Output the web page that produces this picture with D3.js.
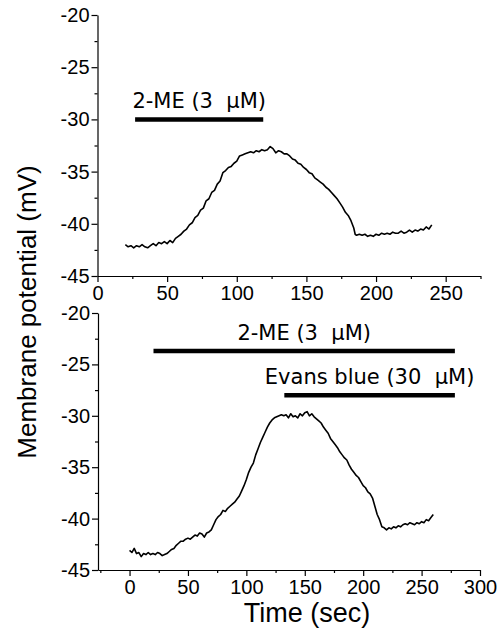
<!DOCTYPE html>
<html lang="en">
<head>
  <meta charset="utf-8">
  <title>Membrane potential</title>
  <script src="https://d3js.org/d3.v7.min.js"></script>
  <style>
    body { margin: 0; background: #fff; }
    text { fill: #000; }
  </style>
</head>
<body>
<script>
// top panel: 2-ME alone, [time (s), potential (mV)]
var traceTop = [
  [20,-42.0],[22,-42.2],[24,-42.1],[26,-42.3],[28,-42.1],[30,-42.2],[32,-42.0],[34,-42.2],
  [36,-42.3],[38,-42.1],[40,-41.9],[42,-42.1],[44,-41.8],[46,-41.9],[48,-41.7],[50,-41.9],
  [52,-41.6],[54,-41.8],[56,-41.4],[58,-41.2],[60,-41.0],[62,-40.7],[64,-40.5],[66,-40.1],
  [68,-39.9],[70,-39.4],[72,-39.2],[74,-38.7],[76,-38.5],[78,-37.8],[80,-37.6],[82,-37.0],
  [84,-36.8],[86,-36.2],[88,-35.9],[90,-35.1],[92,-34.9],[94,-34.6],[96,-34.5],[98,-34.2],
  [100,-34.0],[102,-33.5],[104,-33.4],[106,-33.3],[108,-33.2],[110,-33.1],[112,-33.2],[114,-33.0],
  [116,-33.1],[118,-32.9],[120,-33.0],[122,-32.9],[124,-32.6],[126,-32.8],[128,-33.2],[130,-33.0],
  [132,-33.1],[134,-33.3],[136,-33.3],[138,-33.5],[140,-33.8],[142,-33.9],[144,-34.2],[146,-34.3],
  [148,-34.6],[150,-34.8],[152,-35.1],[154,-35.2],[156,-35.6],[158,-35.8],[160,-36.0],[162,-36.2],
  [164,-36.5],[166,-36.7],[168,-37.0],[170,-37.3],[172,-37.6],[174,-38.0],[176,-38.4],[178,-38.9],
  [180,-39.2],[182,-39.7],[184,-40.4],[185,-41.0],[186,-41.1],[188,-41.0],[190,-41.1],[192,-41.0],
  [194,-41.2],[196,-41.1],[198,-41.2],[200,-41.0],[202,-41.1],[204,-40.9],[206,-41.0],[208,-40.9],
  [210,-41.0],[212,-40.8],[214,-40.9],[216,-40.9],[218,-40.7],[220,-40.9],[222,-40.8],[224,-40.6],
  [226,-40.8],[228,-40.6],[230,-40.7],[232,-40.5],[234,-40.6],[236,-40.3],[238,-40.5],[240,-40.1]
];

// bottom panel: 2-ME then Evans blue
var traceBottom = [
  [0,-43.1],[2,-43.3],[4,-42.9],[6,-43.4],[8,-43.3],[10,-43.7],[12,-43.4],[14,-43.5],
  [16,-43.3],[18,-43.5],[20,-43.4],[22,-43.5],[24,-43.3],[26,-43.4],[28,-43.6],[30,-43.5],
  [32,-43.4],[34,-43.2],[36,-43.0],[38,-42.9],[40,-42.6],[42,-42.4],[44,-42.2],[46,-42.2],
  [48,-42.0],[50,-41.9],[52,-42.0],[54,-41.8],[56,-41.6],[58,-41.7],[60,-41.4],[62,-41.5],
  [64,-41.8],[66,-41.4],[68,-41.3],[70,-41.1],[72,-40.6],[74,-40.1],[76,-39.8],[78,-39.6],
  [80,-39.2],[82,-39.3],[84,-39.0],[86,-38.8],[88,-38.6],[90,-38.4],[92,-38.1],[94,-37.8],
  [96,-37.3],[98,-36.8],[100,-36.2],[102,-35.5],[104,-35.0],[106,-34.6],[108,-33.8],[110,-33.2],
  [112,-32.6],[114,-32.1],[116,-31.6],[118,-31.1],[120,-30.7],[122,-30.4],[124,-30.2],[126,-30.1],
  [128,-30.0],[130,-29.9],[132,-30.0],[134,-29.9],[136,-30.2],[138,-29.8],[140,-30.1],[142,-30.0],
  [144,-30.2],[146,-29.8],[148,-30.0],[150,-29.7],[152,-29.6],[154,-30.0],[156,-29.8],[158,-30.1],
  [160,-30.3],[162,-30.5],[164,-30.7],[166,-31.1],[168,-31.4],[170,-31.7],[172,-32.2],[174,-32.5],
  [176,-32.8],[178,-33.1],[180,-33.5],[182,-33.8],[184,-34.1],[186,-34.3],[188,-34.8],[190,-35.2],
  [192,-35.5],[194,-35.8],[196,-36.0],[198,-36.4],[200,-36.8],[202,-37.0],[204,-37.4],[206,-37.6],
  [208,-38.0],[210,-38.8],[212,-39.6],[214,-40.1],[216,-40.8],[218,-40.9],[220,-41.1],[222,-40.9],
  [224,-41.0],[226,-40.8],[228,-40.9],[230,-40.7],[232,-40.8],[234,-40.6],[236,-40.5],[238,-40.6],
  [240,-40.4],[242,-40.5],[244,-40.6],[246,-40.4],[248,-40.5],[250,-40.3],[252,-40.4],[254,-40.1],
  [256,-40.2],[258,-39.9],[260,-39.6]
];

// drug application bars: start, end, level (mV), label
var barsTop = [
  {start: 27, end: 119, level: -30, label: "2-ME (3  \u03bcM)"}
];
var barsBottom = [
  {start: 20.5, end: 278.5, level: -23.7, label: "2-ME (3  \u03bcM)"},
  {start: 132.5, end: 278.5, level: -28.0, label: "Evans blue (30  \u03bcM)"}
];

var yTicks = [-45, -40, -35, -30, -25, -20];
var xTicksTop = [0, 50, 100, 150, 200, 250];
var xTicksBottom = [0, 50, 100, 150, 200, 250, 300];

var w = 502, h = 631;
var svg = d3.select('body').append('svg')
  .attr('width', w)
  .attr('height', h);

var fmt = function(d) { return String(d); };

function panel(opt) {
  var x = d3.scaleLinear().domain(opt.xDomain).range([opt.left, opt.right]);
  var y = d3.scaleLinear().domain([-45, -20]).range([opt.bottom, opt.top]);
  var g = svg.append('g');

  // minor ticks
  g.append('g')
    .attr('transform', 'translate(0,' + opt.bottom + ')')
    .call(d3.axisBottom(x).tickValues(opt.xMinor).tickSize(3).tickFormat(''))
    .call(function(s) { s.select('.domain').remove(); });
  g.append('g')
    .attr('transform', 'translate(' + opt.left + ',0)')
    .call(d3.axisLeft(y).tickValues(d3.range(-42.5, -20, 5)).tickSize(3).tickFormat(''))
    .call(function(s) { s.select('.domain').remove(); });

  var xa = g.append('g')
    .attr('transform', 'translate(0,' + opt.bottom + ')')
    .call(d3.axisBottom(x).tickValues(opt.xTicks).tickSize(6).tickSizeOuter(0).tickPadding(4).tickFormat(fmt));
  var ya = g.append('g')
    .attr('transform', 'translate(' + opt.left + ',0)')
    .call(d3.axisLeft(y).tickValues(yTicks).tickSize(6).tickSizeOuter(0).tickPadding(2).tickFormat(fmt));
  g.selectAll('.tick text')
    .style('font-family', '"Liberation Sans", Arial, sans-serif')
    .style('font-size', '20px');
  g.selectAll('.domain, .tick line').attr('stroke', '#000').attr('stroke-width', 1.2);

  var line = d3.line()
    .x(function(d) { return x(d[0]); })
    .y(function(d) { return y(d[1]); });
  g.append('path')
    .datum(opt.trace)
    .attr('fill', 'none')
    .attr('stroke', '#000')
    .attr('stroke-width', 1.6)
    .attr('stroke-linejoin', 'round')
    .attr('d', line);

  var b = g.selectAll('.bar').data(opt.bars).enter().append('g');
  b.append('line')
    .attr('x1', function(d) { return x(d.start); })
    .attr('x2', function(d) { return x(d.end); })
    .attr('y1', function(d) { return y(d.level); })
    .attr('y2', function(d) { return y(d.level); })
    .attr('stroke', '#000')
    .attr('stroke-width', 4.5);
  b.append('text')
    .attr('x', function(d) { return x((d.start + d.end) / 2); })
    .attr('y', function(d) { return y(d.level) - 11; })
    .attr('text-anchor', 'middle')
    .style('white-space', 'pre')
    .style('font-family', '"DejaVu Sans", Verdana, sans-serif')
    .style('font-size', '21px')
    .text(function(d) { return d.label; });
}

panel({
  trace: traceTop, bars: barsTop,
  xDomain: [0, 275], left: 97.5, right: 480.5, top: 15, bottom: 276,
  xTicks: xTicksTop, xMinor: [25, 75, 125, 175, 225, 275]
});
panel({
  trace: traceBottom, bars: barsBottom,
  xDomain: [-27, 300], left: 98, right: 480, top: 313, bottom: 570,
  xTicks: xTicksBottom, xMinor: [-25, 25, 75, 125, 175, 225, 275]
});

svg.append('text')
  .attr('transform', 'translate(36,312) rotate(-90)')
  .attr('text-anchor', 'middle')
  .style('font-family', '"Liberation Sans", Arial, sans-serif')
  .style('font-size', '26px')
  .text('Membrane potential (mV)');

svg.append('text')
  .attr('x', 307)
  .attr('y', 622)
  .attr('text-anchor', 'middle')
  .style('font-family', '"Liberation Sans", Arial, sans-serif')
  .style('font-size', '27px')
  .text('Time (sec)');
</script>
</body>
</html>
